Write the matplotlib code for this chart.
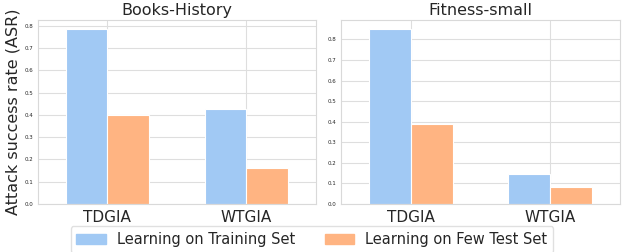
import numpy as np
import pandas as pd
import matplotlib
matplotlib.use('Agg')
import matplotlib.pyplot as plt
import seaborn as sns

# bar heights
methods = ['TDGIA', 'WTGIA']
settings = ['Learning on Training Set', 'Learning on Few Test Set']
datasets = ['Books-History', 'Fitness-small']
books_train = [0.786, 0.424]
books_test = [0.401, 0.162]
fitness_train = [0.852, 0.147]
fitness_test = [0.389, 0.082]
colors = ['#a1c9f4', '#ffb482']

sns.set_theme(style='whitegrid')
plt.rcParams['font.family'] = ['DejaVu Sans']


def make_df(train, test):
    return pd.DataFrame({
        'method': methods * 2,
        'asr': list(train) + list(test),
        'setting': [settings[0]] * len(methods) + [settings[1]] * len(methods),
    })


fig = plt.figure(figsize=(6.24, 2.52), dpi=100)
ax1 = fig.add_axes([0.0604, 0.1905, 0.446, 0.730])
ax2 = fig.add_axes([0.5465, 0.1905, 0.447, 0.730])

frames = [make_df(books_train, books_test), make_df(fitness_train, fitness_test)]
for ax, df, name in zip([ax1, ax2], frames, datasets):
    sns.barplot(data=df, x='method', y='asr', hue='setting', hue_order=settings,
                palette=colors, saturation=1, ax=ax, legend=False, width=0.6,
                edgecolor='white', linewidth=0.8)
    ax.set_title(name, fontsize=11.5, pad=3.5, color='0.15')
    ax.set_xlabel('')
    ax.set_ylabel('')
    ax.set_xlim(-0.5, 1.5)
    ax.tick_params(axis='x', labelsize=11, pad=4, length=0)
    ax.tick_params(axis='y', labelsize=4, pad=3, length=0)
    for s in ax.spines.values():
        s.set_color('0.85')
        s.set_linewidth(0.8)
    ax.grid(True, color='0.87', linewidth=0.8)
    ax.set_axisbelow(True)

ax1.set_ylabel('Attack success rate (ASR)', fontsize=11.5, labelpad=3)

handles = [plt.Rectangle((0, 0), 1, 1, color=c) for c in colors]
fig.legend(handles, settings, loc='upper center', bbox_to_anchor=(0.5, 0.103),
           ncol=2, fontsize=10.5, frameon=True, edgecolor='0.85',
           fancybox=True, borderaxespad=0)

fig.savefig('out.png', dpi=100)
